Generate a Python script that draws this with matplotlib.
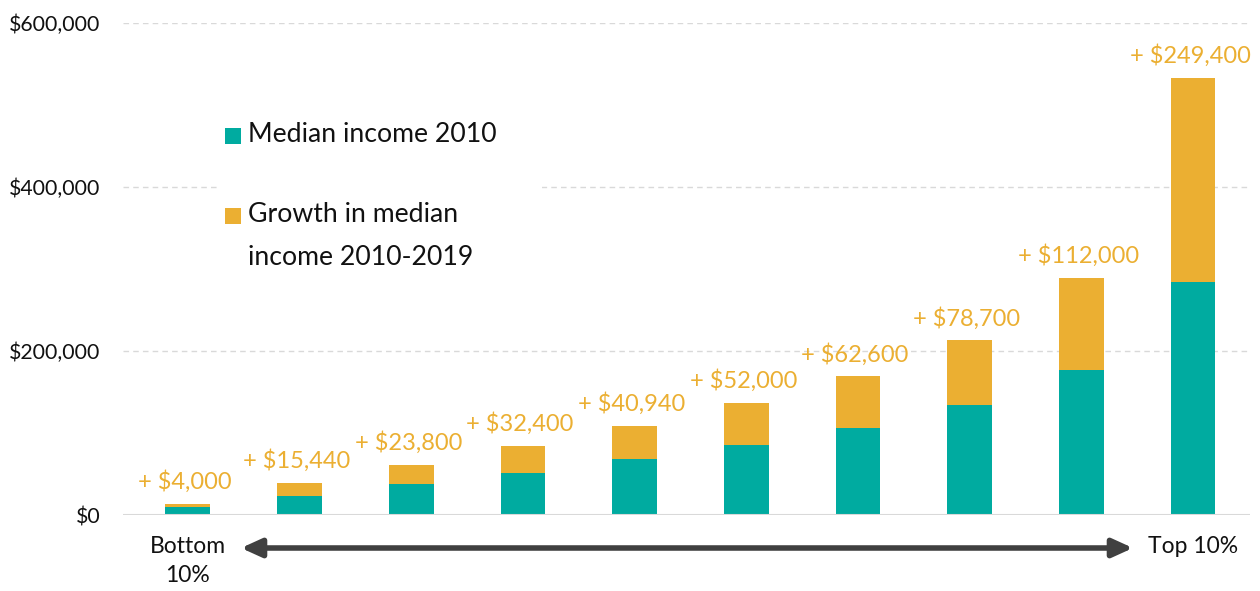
import matplotlib
matplotlib.use("Agg")
import matplotlib.pyplot as plt
from matplotlib.patches import Rectangle
from matplotlib.ticker import FuncFormatter

plt.rcParams['font.family'] = ['Lato', 'DejaVu Sans']

# ---------- Data ----------
deciles = ["Bottom\n10%", "", "", "", "", "", "", "", "", "Top 10%"]
median_2010 = [10000, 23500, 37700, 51600, 67900, 85000, 106500, 134500, 177000, 284300]
growth = [4000, 15440, 23800, 32400, 40940, 52000, 62600, 78700, 112000, 249400]
growth_labels = ["+ $4,000", "+ $15,440", "+ $23,800", "+ $32,400", "+ $40,940",
                 "+ $52,000", "+ $62,600", "+ $78,700", "+ $112,000", "+ $249,400"]
legend_labels = ["Median income 2010", "Growth in median\nincome 2010-2019"]

teal = "#00ABA0"
gold = "#EBAF32"
W, H = 1260, 591

fig = plt.figure(figsize=(12.6, 5.91), dpi=100)
ax = fig.add_axes([123 / W, 1 - 515 / H, (1250 - 123) / W, (515 - 23.3) / H])

x = list(range(len(deciles)))
ax.bar(x, median_2010, width=0.4, color=teal, zorder=3)
ax.bar(x, growth, width=0.4, bottom=median_2010, color=gold, zorder=3)

# ---------- Labels above bars ----------
for xi, base, g, lab in zip(x, median_2010, growth, growth_labels):
    ax.annotate(lab, (xi, base + g), xytext=(-2, 16), textcoords="offset points",
                ha="center", va="center", fontsize=17, color=gold)

# ---------- Axes styling ----------
ax.set_xlim(-0.58, 9.51)
ax.set_ylim(0, 600000)
ax.set_yticks([0, 200000, 400000, 600000])
ax.yaxis.set_major_formatter(FuncFormatter(lambda v, p: f"${int(v):,}"))
ax.set_xticks(x)
ax.set_xticklabels(deciles, linespacing=1.5)
ax.tick_params(axis="y", length=0, pad=16, labelsize=15.3, labelcolor="#111111")
ax.tick_params(axis="x", length=0, pad=15, labelsize=16.5, labelcolor="#111111")
for s in ax.spines.values():
    s.set_visible(False)
ax.yaxis.grid(True, color="#d9d9d9", linestyle=(0, (4, 3)), linewidth=1, zorder=0)
ax.axhline(0, color="#d9d9d9", linewidth=1.5, zorder=4)

# ---------- Legend (manual, white box over gridline) ----------
fig.patches.append(Rectangle((218 / W, 1 - 280 / H), (542 - 218) / W, 180 / H,
                             transform=fig.transFigure, facecolor="white",
                             edgecolor="none", zorder=1))
leg_colors = [teal, gold]
leg_y = [136, 216]
for c, yy, lab in zip(leg_colors, leg_y, legend_labels):
    fig.patches.append(Rectangle((225 / W, 1 - (yy + 8) / H), 16 / W, 16 / H,
                                 transform=fig.transFigure, facecolor=c,
                                 edgecolor="none", zorder=2))
    fig.text(248 / W, 1 - (yy - 14) / H, lab, fontsize=19.2, color="#111111",
             ha="left", va="top", linespacing=1.9, zorder=3)

# ---------- Arrow ----------
ax.annotate("", xy=(1133 / W, 1 - 548 / H), xytext=(241 / W, 1 - 548 / H),
            xycoords="figure fraction", textcoords="figure fraction",
            arrowprops=dict(arrowstyle="<|-|>,head_length=0.55,head_width=0.25",
                            lw=4, color="#404040", mutation_scale=22,
                            shrinkA=0, shrinkB=0))

fig.savefig("out.png", dpi=100)
